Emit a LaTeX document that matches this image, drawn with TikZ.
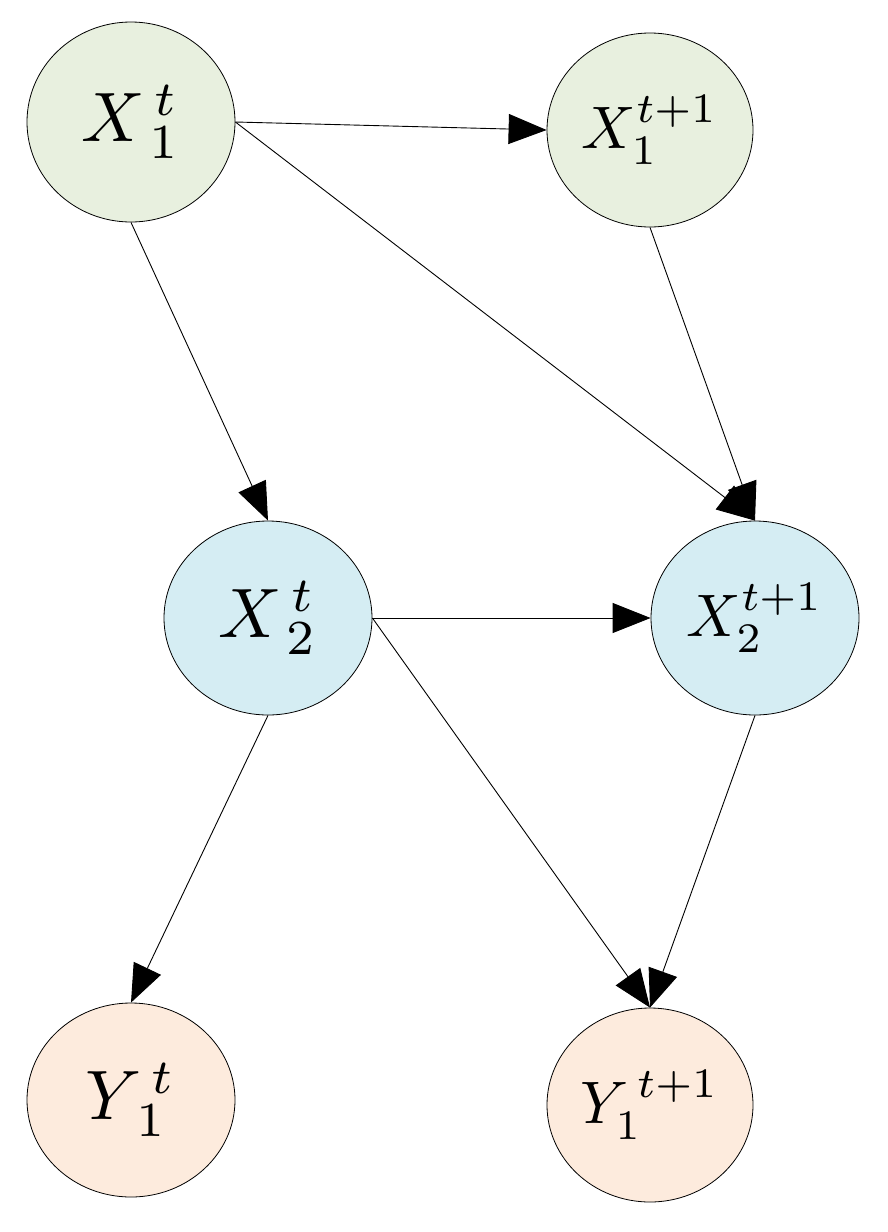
\documentclass[tikz,border=0pt]{standalone}
\usepackage{graphicx}
\usetikzlibrary{arrows.meta,shapes.geometric}
\begin{document}
\begin{tikzpicture}[x=1pt,y=-1pt,
  nd/.style={ellipse,draw,line width=0.8pt,inner sep=0pt},
  ar/.style={-{Triangle[length=38pt,width=30pt]},line width=0.9pt}]
\definecolor{cg}{HTML}{E8F0DF}
\definecolor{cb}{HTML}{D5EDF3}
\definecolor{co}{HTML}{FDEBDD}
\useasboundingbox (0,0) rectangle (888,1232);
\node[nd,fill=cg,minimum width=208pt,minimum height=200pt] (a) at (131,122) {\scalebox{7}{$X_{\,1}^{\,t}$}};
\node[nd,fill=cg,minimum width=206pt,minimum height=194pt] (b) at (650,130) {\scalebox{6}{$X_1^{t+1}$}};
\node[nd,fill=cb,minimum width=208pt,minimum height=194pt] (c) at (268,618) {\scalebox{7}{$X_{\,2}^{\,t}$}};
\node[nd,fill=cb,minimum width=208pt,minimum height=194pt] (d) at (755,618) {\scalebox{6}{$X_2^{t+1}$}};
\node[nd,fill=co,minimum width=208pt,minimum height=194pt] (e) at (131,1100) {\scalebox{7}{$Y_{\,1}^{\,t}$}};
\node[nd,fill=co,minimum width=206pt,minimum height=194pt] (f) at (650,1105) {\scalebox{6}{$Y_1^{\,t+1}$}};
\draw[ar] (a.east) -- (b.west);
\draw[ar] (a.south) -- (c.north);
\draw[ar] (a.east) -- (d.north);
\draw[ar] (b.south) -- (d.north);
\draw[ar] (c.east) -- (d.west);
\draw[ar] (c.south) -- (e.north);
\draw[ar] (c.east) -- (f.north);
\draw[ar] (d.south) -- (f.north);
\end{tikzpicture}
\end{document}
